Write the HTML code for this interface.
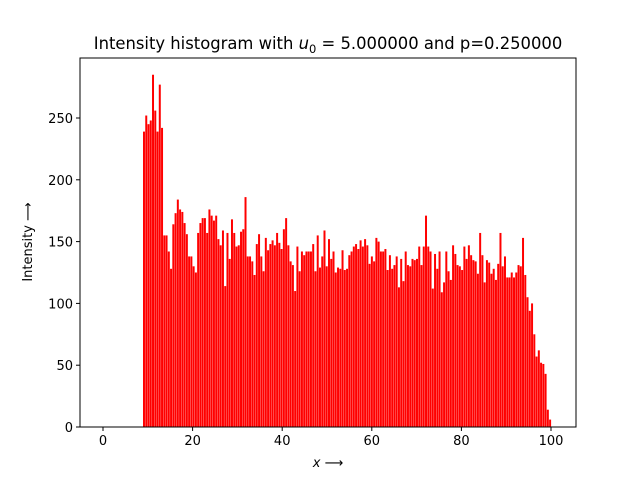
<!DOCTYPE html>
<html><head><meta charset="utf-8"><style>
body{margin:0;background:#fff;}
svg text{font-family:"DejaVu Sans","Liberation Sans",sans-serif;}
</style></head><body>
<svg id="chart" width="640" height="480" xmlns="http://www.w3.org/2000/svg">
<rect width="640" height="480" fill="#fff"/>
<text x="328" y="49" font-size="16.4" text-anchor="middle">Intensity histogram with <tspan font-style="italic">u</tspan><tspan font-size="11.5" dy="4">0</tspan><tspan dy="-4"> = 5.000000 and p=0.250000</tspan></text>
<g id="bars"></g>
<g id="axes"></g>
<text x="328" y="467" font-size="13" text-anchor="middle"><tspan font-style="italic">x</tspan> ⟶</text>
<text transform="translate(32,242) rotate(-90)" font-size="13" text-anchor="middle">Intensity ⟶</text>
</svg>
<script>
const startX = 9.15;
const endX = 99.8;
const intensities = [239,252,245,248,285,256,239,277,242,155,155,142,128,164,173,184,176,174,165,156,138,138,130,125,157,165,169,169,157,176,171,167,171,152,147,159,114,157,136,168,157,146,147,158,160,186,138,138,134,123,148,156,138,126,153,143,148,151,147,
157,149,144,160,169,147,134,131,110,146,126,142,139,142,142,142,148,126,155,129,138,159,130,152,136,142,125,129,128,143,127,128,139,142,146,148,144,151,146,152,147,132,138,134,153,150,142,142,144,127,139,128,131,138,113,136,118,142,131,130,
136,135,136,146,131,146,171,146,142,112,140,128,142,109,117,142,126,119,147,140,131,130,127,146,136,147,139,135,134,124,157,139,117,135,133,124,128,119,132,157,130,138,121,121,125,121,125,131,130,153,123,105,94,100,75,57,62,52,51,43,14,6];
const xTicks = [0,20,40,60,80,100];
const yTicks = [0,50,100,150,200,250];
const L=80,R=576,T=58,B=427;
const xs = v => 103 + v*4.48;
const ys = v => 427 - v*1.236;
const NS='http://www.w3.org/2000/svg';
const bars=document.getElementById('bars');
const n=intensities.length;
const step=(endX-startX)/(n-1);
intensities.forEach((v,i)=>{
  const c=startX+i*step;
  const r=document.createElementNS(NS,'rect');
  
  
  const w=step*0.88*4.48;
  r.setAttribute('x',xs(c)-w/2);r.setAttribute('width',w);
  r.setAttribute('y',ys(v));r.setAttribute('height',B-ys(v));
  r.setAttribute('fill','#ff0000');
  bars.appendChild(r);
});
const ax=document.getElementById('axes');
const frame=document.createElementNS(NS,'rect');


frame.setAttribute('x',L);frame.setAttribute('y',T);frame.setAttribute('width',R-L);frame.setAttribute('height',B-T);
frame.setAttribute('fill','none');frame.setAttribute('stroke','#000');frame.setAttribute('stroke-width','1');
ax.appendChild(frame);
xTicks.forEach(t=>{
  const l=document.createElementNS(NS,'line');
  
  
  l.setAttribute('x1',xs(t));l.setAttribute('x2',xs(t));l.setAttribute('y1',B);l.setAttribute('y2',B+4);l.setAttribute('stroke','#000');
  ax.appendChild(l);
  const tx=document.createElementNS(NS,'text');
  
  
  tx.setAttribute('x',xs(t));tx.setAttribute('y',B+18);tx.setAttribute('font-size','13');tx.setAttribute('text-anchor','middle');
  tx.textContent=t;ax.appendChild(tx);
});
yTicks.forEach(t=>{
  const l=document.createElementNS(NS,'line');
  
  
  l.setAttribute('x1',L-4);l.setAttribute('x2',L);l.setAttribute('y1',ys(t));l.setAttribute('y2',ys(t));l.setAttribute('stroke','#000');
  ax.appendChild(l);
  const tx=document.createElementNS(NS,'text');
  
  
  tx.setAttribute('x',L-7);tx.setAttribute('y',ys(t)+5);tx.setAttribute('font-size','13');tx.setAttribute('text-anchor','end');
  tx.textContent=t;ax.appendChild(tx);
});
</script>
</body></html>
